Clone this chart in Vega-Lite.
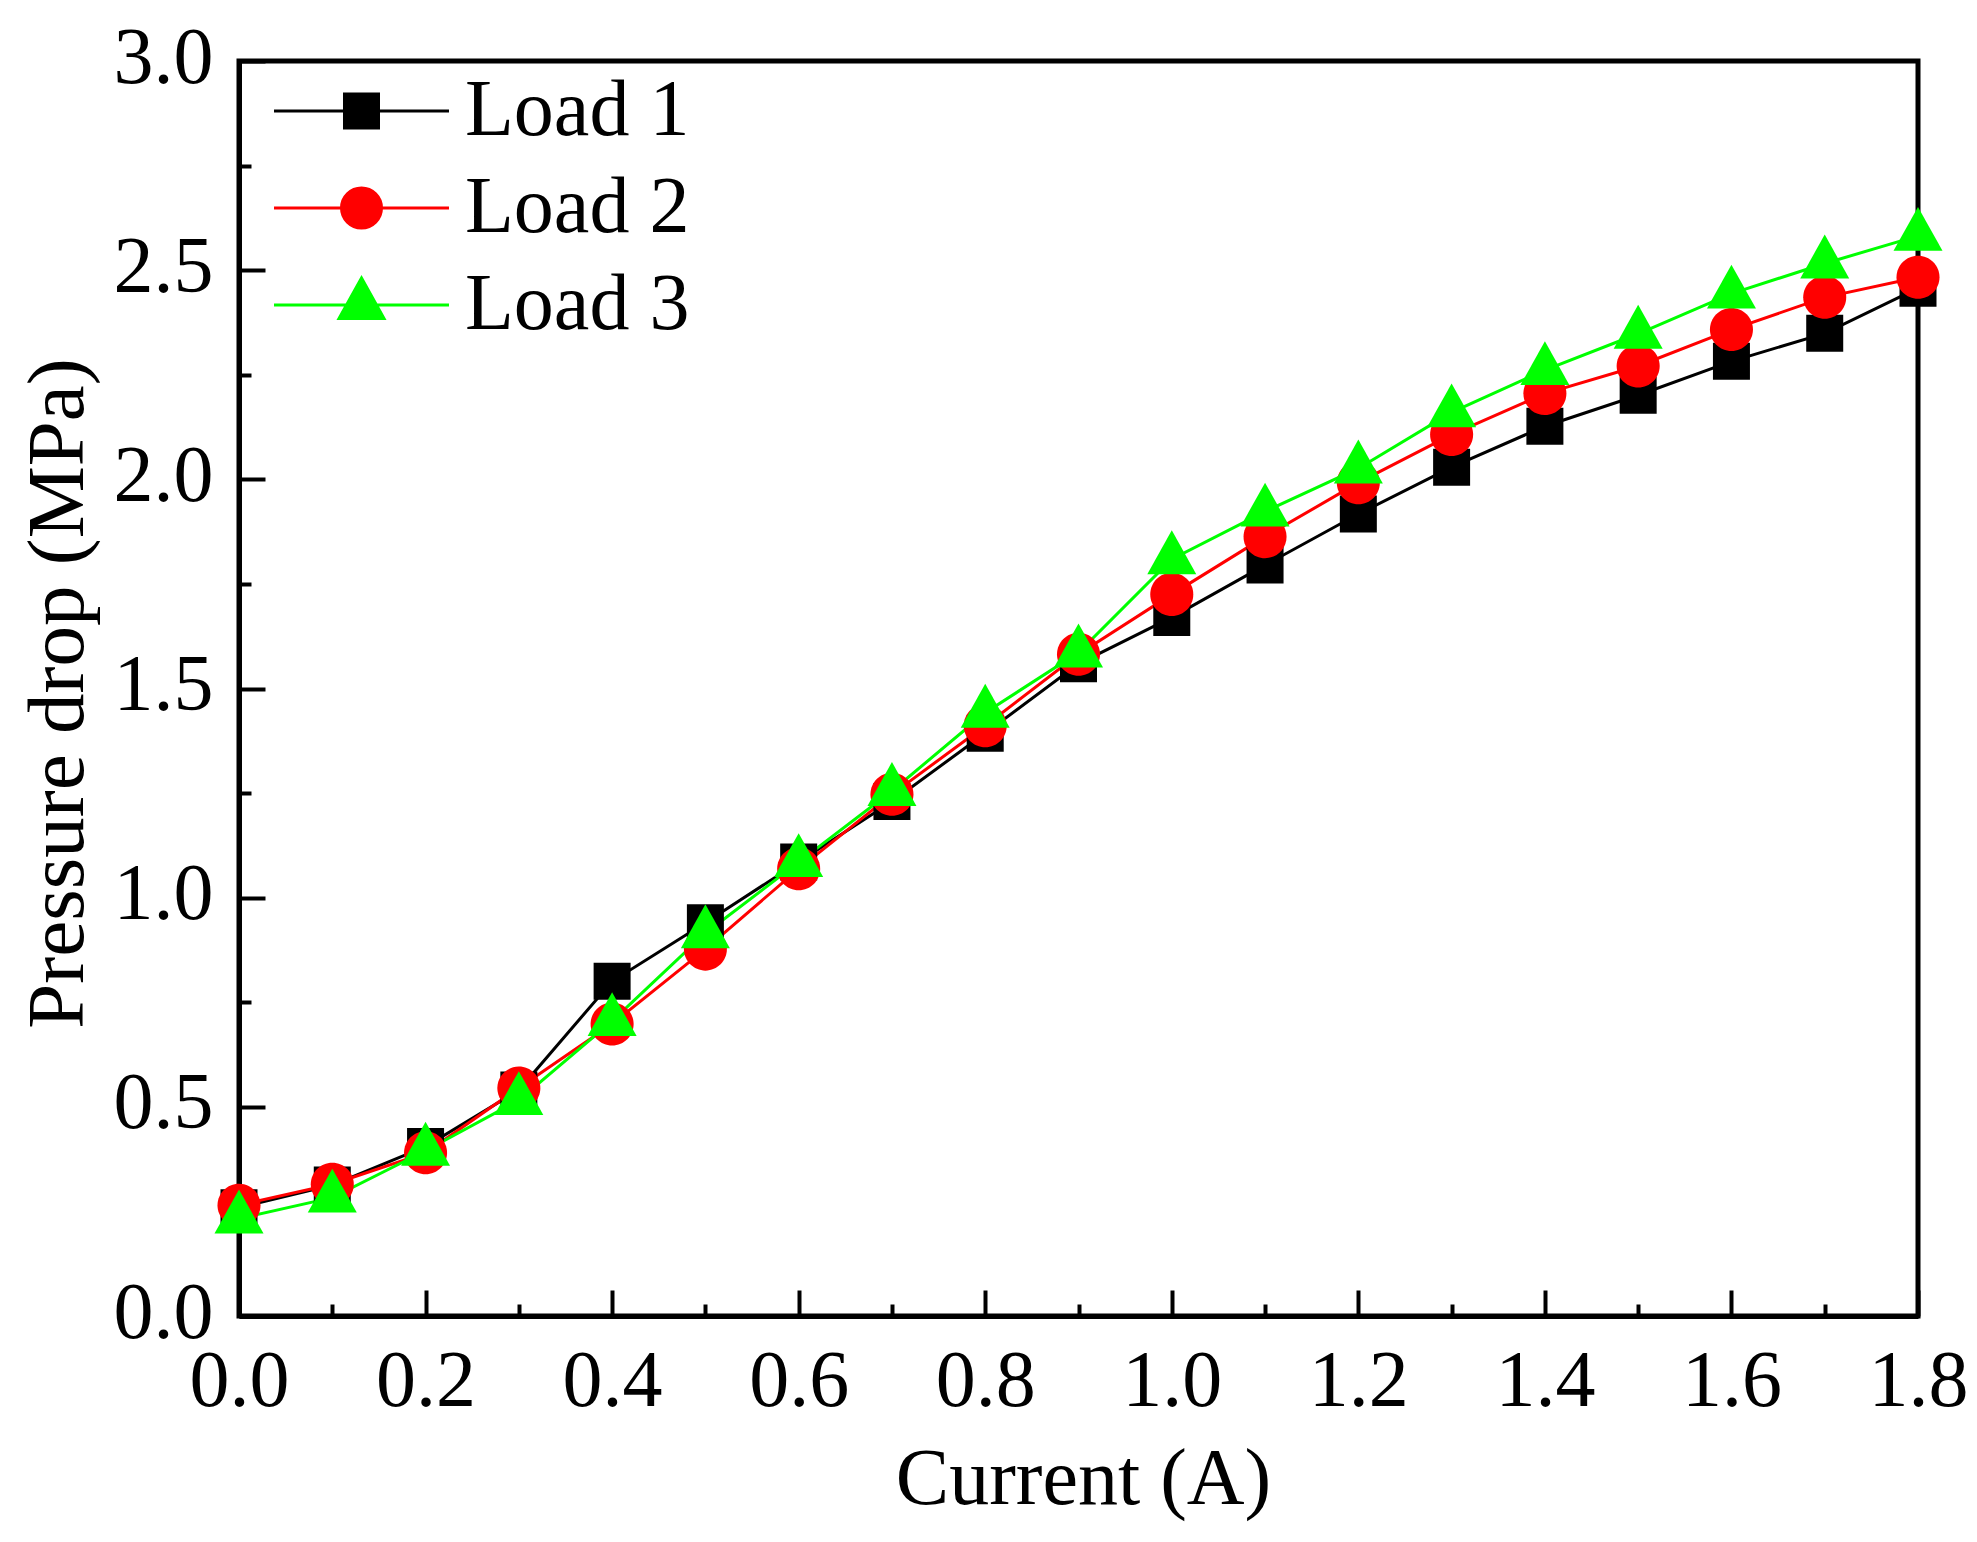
{
  "$schema": "https://vega.github.io/schema/vega-lite/v6.json",
  "width": 1679,
  "height": 1255,
  "autosize": "none",
  "padding": {"left": 239, "top": 61, "right": 59, "bottom": 226},
  "config": {
    "font": "Liberation Serif",
    "view": {"stroke": "black", "strokeWidth": 5},
    "axis": {
      "grid": false,
      "domainColor": "black",
      "domainWidth": 5,
      "tickColor": "black",
      "tickWidth": 4,
      "labelColor": "black",
      "labelFont": "Liberation Serif",
      "labelFontSize": 80,
      "labelFlush": false,
      "labelOverlap": false,
      "labelBound": false,
      "titleColor": "black",
      "titleFont": "Liberation Serif",
      "titleFontWeight": "normal"
    }
  },
  "data": {
    "values": [
      {"current": 0.0, "pressure": 0.259, "load": "Load 1"},
      {"current": 0.1, "pressure": 0.313, "load": "Load 1"},
      {"current": 0.2, "pressure": 0.405, "load": "Load 1"},
      {"current": 0.3, "pressure": 0.54, "load": "Load 1"},
      {"current": 0.4, "pressure": 0.80, "load": "Load 1"},
      {"current": 0.5, "pressure": 0.94, "load": "Load 1"},
      {"current": 0.6, "pressure": 1.085, "load": "Load 1"},
      {"current": 0.7, "pressure": 1.23, "load": "Load 1"},
      {"current": 0.8, "pressure": 1.393, "load": "Load 1"},
      {"current": 0.9, "pressure": 1.559, "load": "Load 1"},
      {"current": 1.0, "pressure": 1.67, "load": "Load 1"},
      {"current": 1.1, "pressure": 1.795, "load": "Load 1"},
      {"current": 1.2, "pressure": 1.917, "load": "Load 1"},
      {"current": 1.3, "pressure": 2.029, "load": "Load 1"},
      {"current": 1.4, "pressure": 2.127, "load": "Load 1"},
      {"current": 1.5, "pressure": 2.201, "load": "Load 1"},
      {"current": 1.6, "pressure": 2.282, "load": "Load 1"},
      {"current": 1.7, "pressure": 2.349, "load": "Load 1"},
      {"current": 1.8, "pressure": 2.457, "load": "Load 1"},
      {"current": 0.0, "pressure": 0.265, "load": "Load 2"},
      {"current": 0.1, "pressure": 0.315, "load": "Load 2"},
      {"current": 0.2, "pressure": 0.39, "load": "Load 2"},
      {"current": 0.3, "pressure": 0.545, "load": "Load 2"},
      {"current": 0.4, "pressure": 0.698, "load": "Load 2"},
      {"current": 0.5, "pressure": 0.877, "load": "Load 2"},
      {"current": 0.6, "pressure": 1.069, "load": "Load 2"},
      {"current": 0.7, "pressure": 1.247, "load": "Load 2"},
      {"current": 0.8, "pressure": 1.411, "load": "Load 2"},
      {"current": 0.9, "pressure": 1.582, "load": "Load 2"},
      {"current": 1.0, "pressure": 1.725, "load": "Load 2"},
      {"current": 1.1, "pressure": 1.863, "load": "Load 2"},
      {"current": 1.2, "pressure": 1.992, "load": "Load 2"},
      {"current": 1.3, "pressure": 2.107, "load": "Load 2"},
      {"current": 1.4, "pressure": 2.205, "load": "Load 2"},
      {"current": 1.5, "pressure": 2.271, "load": "Load 2"},
      {"current": 1.6, "pressure": 2.358, "load": "Load 2"},
      {"current": 1.7, "pressure": 2.435, "load": "Load 2"},
      {"current": 1.8, "pressure": 2.483, "load": "Load 2"},
      {"current": 0.0, "pressure": 0.233, "load": "Load 3"},
      {"current": 0.1, "pressure": 0.283, "load": "Load 3"},
      {"current": 0.2, "pressure": 0.395, "load": "Load 3"},
      {"current": 0.3, "pressure": 0.516, "load": "Load 3"},
      {"current": 0.4, "pressure": 0.705, "load": "Load 3"},
      {"current": 0.5, "pressure": 0.915, "load": "Load 3"},
      {"current": 0.6, "pressure": 1.085, "load": "Load 3"},
      {"current": 0.7, "pressure": 1.255, "load": "Load 3"},
      {"current": 0.8, "pressure": 1.442, "load": "Load 3"},
      {"current": 0.9, "pressure": 1.586, "load": "Load 3"},
      {"current": 1.0, "pressure": 1.809, "load": "Load 3"},
      {"current": 1.1, "pressure": 1.923, "load": "Load 3"},
      {"current": 1.2, "pressure": 2.026, "load": "Load 3"},
      {"current": 1.3, "pressure": 2.16, "load": "Load 3"},
      {"current": 1.4, "pressure": 2.261, "load": "Load 3"},
      {"current": 1.5, "pressure": 2.348, "load": "Load 3"},
      {"current": 1.6, "pressure": 2.444, "load": "Load 3"},
      {"current": 1.7, "pressure": 2.516, "load": "Load 3"},
      {"current": 1.8, "pressure": 2.582, "load": "Load 3"}
    ]
  },
  "encoding": {
    "x": {
      "field": "current",
      "type": "quantitative",
      "scale": {"domain": [0, 1.8], "nice": false, "zero": false},
      "axis": null
    },
    "y": {
      "field": "pressure",
      "type": "quantitative",
      "scale": {"domain": [0, 3], "nice": false, "zero": false},
      "axis": null
    },
    "color": {
      "field": "load",
      "type": "nominal",
      "scale": {"domain": ["Load 1", "Load 2", "Load 3"], "range": ["#000000", "#ff0000", "#00ff00"]},
      "legend": {
        "title": null,
        "orient": "none",
        "legendX": 82.5,
        "legendY": 10,
        "padding": 0,
        "rowPadding": 17,
        "symbolSize": 2401,
        "symbolStrokeWidth": 3,
        "symbolOpacity": 1,
        "labelOffset": 63.5,
        "labelLimit": 1000,
        "labelFont": "Liberation Serif",
        "labelFontSize": 80,
        "labelColor": "black"
      }
    }
  },
  "layer": [
    {
      "mark": {"type": "line", "strokeWidth": 3},
      "encoding": {
        "x": {
          "field": "current",
          "type": "quantitative",
          "axis": {
            "orient": "bottom",
            "values": [0, 0.2, 0.4, 0.6, 0.8, 1.0, 1.2, 1.4, 1.6, 1.8],
            "format": ".1f",
            "tickSize": -26,
            "labelPadding": 52,
            "title": "Current (A)",
            "titleFontSize": 80,
            "titleBaseline": "alphabetic",
            "titleX": 844,
            "titleY": 187
          }
        },
        "y": {
          "field": "pressure",
          "type": "quantitative",
          "axis": {
            "orient": "left",
            "values": [0, 0.5, 1.0, 1.5, 2.0, 2.5, 3.0],
            "format": ".1f",
            "tickSize": -26,
            "labelPadding": 52,
            "labelOffset": -3,
            "title": "Pressure drop (MPa)",
            "titleFontSize": 81,
            "titleBaseline": "alphabetic",
            "titleAngle": -90,
            "titleX": -157,
            "titleY": 632
          }
        }
      }
    },
    {
      "transform": [{"filter": "datum.load === 'Load 1'"}],
      "mark": {"type": "point", "shape": "M-0.755,-0.755H0.755V0.755H-0.755Z", "filled": true, "opacity": 1, "size": 2401, "strokeWidth": 0},
      "encoding": {
        "x": {
          "field": "current",
          "type": "quantitative",
          "axis": {
            "orient": "bottom",
            "values": [0.1, 0.3, 0.5, 0.7, 0.9, 1.1, 1.3, 1.5, 1.7],
            "tickSize": -12,
            "labels": false,
            "domain": false,
            "title": null
          }
        },
        "y": {
          "field": "pressure",
          "type": "quantitative",
          "axis": {
            "orient": "left",
            "values": [0.25, 0.75, 1.25, 1.75, 2.25, 2.75],
            "tickSize": -12,
            "labels": false,
            "domain": false,
            "title": null
          }
        }
      }
    },
    {
      "transform": [{"filter": "datum.load === 'Load 2'"}],
      "mark": {"type": "point", "shape": "M-0.878,0A0.878,0.878,0,1,1,0.878,0A0.878,0.878,0,1,1,-0.878,0Z", "filled": true, "opacity": 1, "size": 2401, "strokeWidth": 0}
    },
    {
      "transform": [{"filter": "datum.load === 'Load 3'"}],
      "mark": {"type": "point", "shape": "M0,-1.18L1,0.61L-1,0.61Z", "filled": true, "opacity": 1, "size": 2401, "strokeWidth": 0}
    },
    {
      "transform": [{"filter": "datum.load === 'none'"}],
      "mark": {"type": "point", "filled": true, "opacity": 1, "size": 2401, "strokeWidth": 3},
      "encoding": {
        "shape": {
          "field": "load",
          "type": "nominal",
          "scale": {
            "domain": ["Load 1", "Load 2", "Load 3"],
            "range": [
              "M-3.571,0H3.571M-0.694,-0.694H0.694V0.694H-0.694Z",
              "M-3.571,0H3.571M-0.816,0A0.816,0.816,0,1,1,0.816,0A0.816,0.816,0,1,1,-0.816,0Z",
              "M-3.571,0H3.571M0,-1.102L0.918,0.551L-0.918,0.551Z"
            ]
          },
          "legend": null
        },
        "stroke": {
          "field": "load",
          "type": "nominal",
          "scale": {"domain": ["Load 1", "Load 2", "Load 3"], "range": ["#000000", "#ff0000", "#00ff00"]},
          "legend": null
        }
      }
    }
  ],
  "resolve": {"axis": {"x": "independent", "y": "independent"}}
}
